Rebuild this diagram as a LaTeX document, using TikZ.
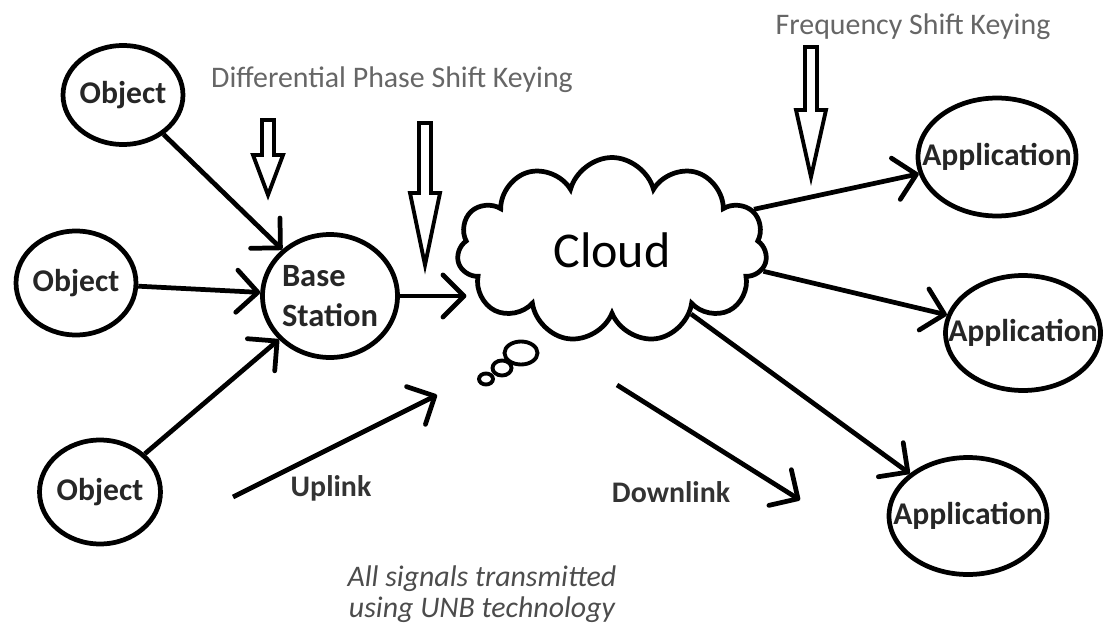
\documentclass[tikz,border=0pt]{standalone}
\usepackage{fontspec}
\setmainfont{Carlito}
\usetikzlibrary{shapes.geometric,shapes.symbols,arrows.meta}

% hollow keying arrow: x, top, head start, tip
\newcommand{\keyarrow}[4]{%
	\draw[keyline] (#1-6,#2) -- (#1+6,#2) -- (#1+6,#3) -- (#1+15,#3) -- (#1,#4) -- (#1-15,#3) -- (#1-6,#3) -- cycle;}

\begin{document}
\begin{tikzpicture}[x=0.02cm, y=-0.02cm,
		thing/.style={ellipse, draw, line width=2.7pt, inner xsep=-0.6cm, inner ysep=-0.1cm, text=black!85, font=\fontsize{18}{20}\selectfont\bfseries},
		link/.style={line width=2.7pt, -{Straight Barb[length=12pt, width=24pt, round]}},
		keyline/.style={line width=2.2pt, fill=white},
		keying/.style={text=black!60, font=\fontsize{17}{19}\selectfont},
		linklabel/.style={text=black!80, font=\fontsize{17}{19}\selectfont\bfseries},
		note/.style={text=black!70, align=center, font=\fontsize{17}{18}\selectfont\itshape},
		bubble/.style={line width=2.2pt}]
	\useasboundingbox (0,0) rectangle (1108,628);
	% Nodes:
	\node[thing, minimum width=2.4cm, minimum height=1.98cm] (obj1) at (123,95) {Object};
	\node[thing, minimum width=2.4cm, minimum height=2.08cm] (obj2) at (76,283) {Object};
	\node[thing, minimum width=2.42cm, minimum height=2.08cm] (obj3) at (100,492) {Object};
	\node[thing, minimum width=2.7cm, minimum height=2.46cm, align=left, font=\fontsize{18.5}{23}\selectfont\bfseries] (base) at (330,296) {Base\\Station};
	\node[cloud, cloud puffs=11, cloud ignores aspect, draw, line width=2.7pt, minimum width=6.2cm, minimum height=3.7cm, font=\fontsize{28.5}{32}\selectfont] (cloud) at (612,250) {Cloud};
	\node[thing, minimum width=3.16cm, minimum height=2.36cm] (app1) at (997,157) {Application};
	\node[thing, minimum width=3.1cm, minimum height=2.3cm] (app2) at (1023,333) {Application};
	\node[thing, minimum width=3.16cm, minimum height=2.34cm] (app3) at (968,516) {Application};
	% thought bubbles
	\draw[bubble] (521,353) ellipse (0.33cm and 0.23cm);
	\draw[bubble] (502,368) ellipse (0.19cm and 0.15cm);
	\draw[bubble] (486,379) ellipse (0.14cm and 0.11cm);
	% Keying labels and arrows:
	\node[keying] (dpsk) at (392,80) {Differential Phase Shift Keying};
	\node[keying] (fsk) at (913,27) {Frequency Shift Keying};
	\keyarrow{268}{120}{155}{195}
	\keyarrow{425}{123}{193}{265}
	\keyarrow{811}{47}{110}{177}
	% Links:
	\draw[link] (obj1) -- (base);
	\draw[link] (obj2) -- (base);
	\draw[link] (obj3) -- (base);
	\draw[link] (base.east) -- ([xshift=0.2cm]base.east -| cloud.west);
	\draw[link] (cloud.16) -- (app1);
	\draw[link] (cloud.-8) -- (app2);
	\draw[link] (cloud.-39) -- (app3);
	% Uplink / downlink
	\coordinate (upA) at (233,497);
	\coordinate (upB) at (437,395);
	\draw[link] (upA) -- (upB);
	\node[linklabel] (uplink) at (331,488) {Uplink};
	\coordinate (downA) at (617,385);
	\coordinate (downB) at (800,500);
	\draw[link] (downA) -- (downB);
	\node[linklabel] (downlink) at (671,492) {Downlink};
	\node[note] (unb) at (482,594) {All signals transmitted\\using UNB technology};
\end{tikzpicture}
\end{document}
